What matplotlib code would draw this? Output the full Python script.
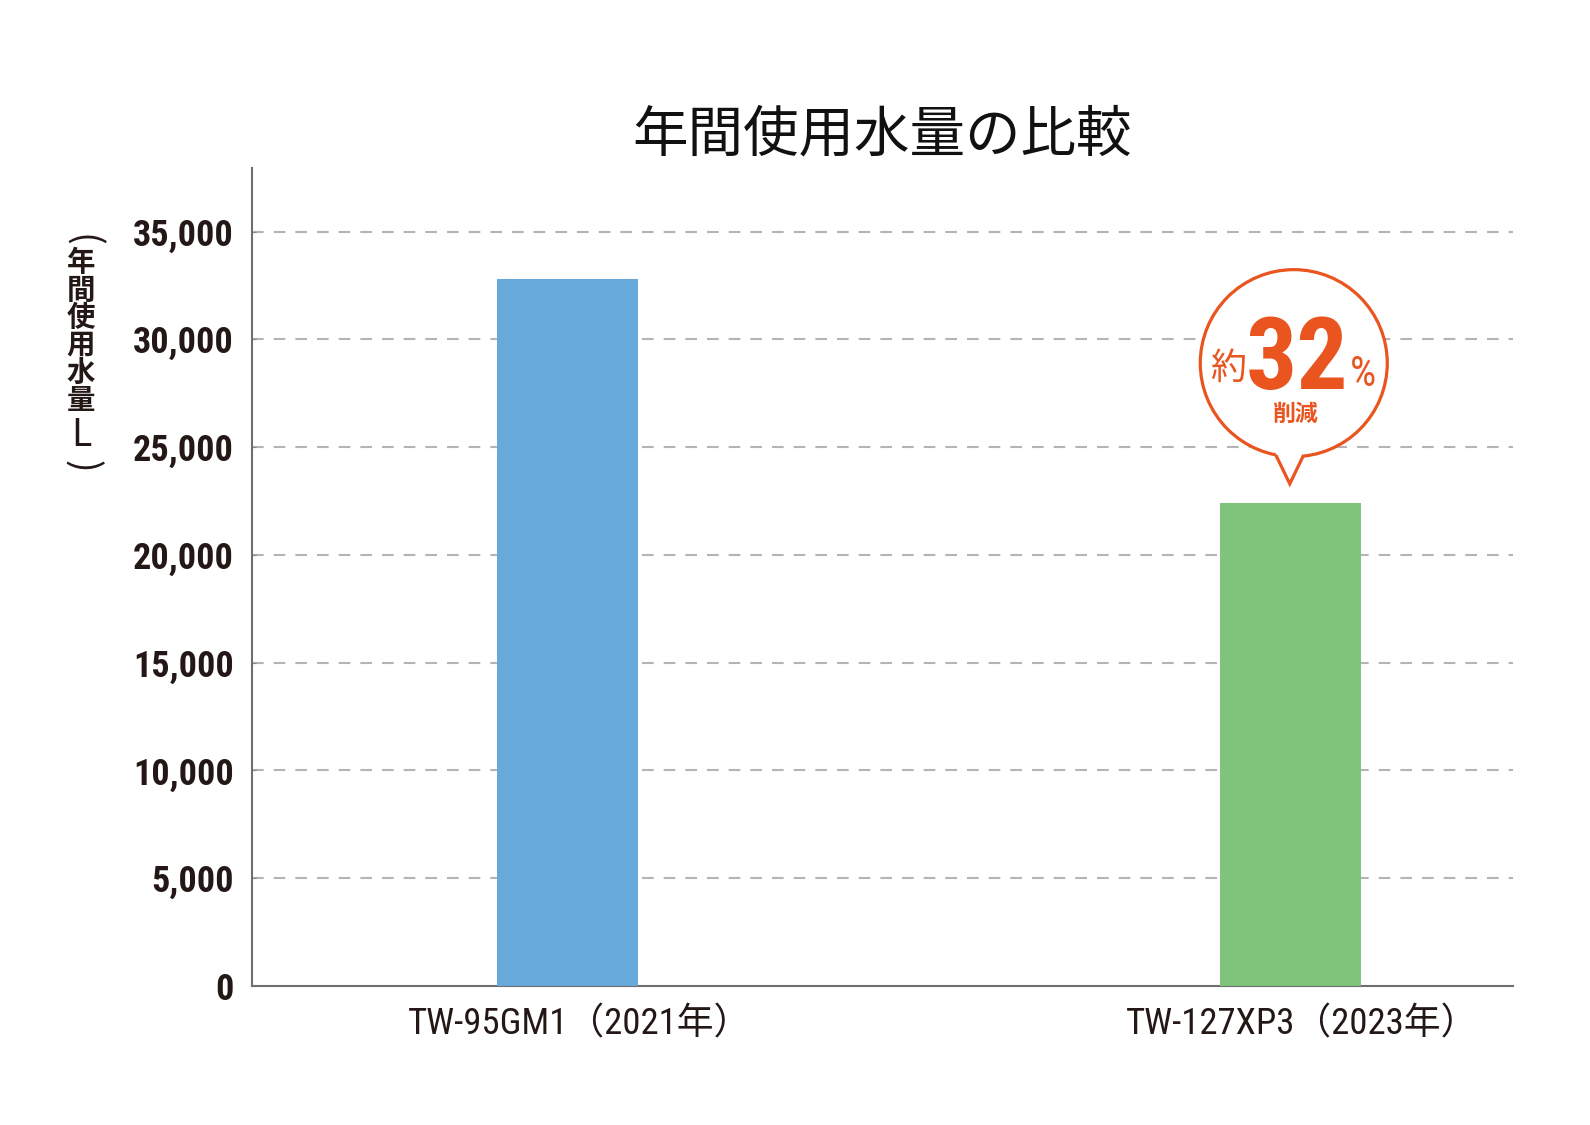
import matplotlib
matplotlib.use('Agg')
import matplotlib.pyplot as plt
import matplotlib.transforms as mtransforms
from matplotlib.patches import Circle, Polygon
from matplotlib import font_manager

# data
models = ['TW-95GM1（2021年）', 'TW-127XP3（2023年）']
water_use = [32800, 22400]          # L / year
reduction_pct = 32
y_ticks = [0, 5000, 10000, 15000, 20000, 25000, 30000, 35000]
y_tick_labels = [f'{v:,}' for v in y_ticks]
ylabel_chars = ['（', '年', '間', '使', '用', '水', '量', 'L', '）']

BLUE = '#67A9DA'
GREEN = '#7FC47A'
ORANGE = '#E9541F'
INK = '#231815'
GRID = '#B4B4B4'

names = {f.name for f in font_manager.fontManager.ttflist}
COND = next((n for n in ['Roboto Condensed', 'PT Sans Narrow', 'Archivo Narrow']
             if n in names), 'DejaVu Sans')
JP = 'Noto Sans CJK JP'
MIX = [COND, JP]
plt.rcParams['font.family'] = [JP, 'DejaVu Sans']

fig = plt.figure(figsize=(15.9, 11.25), dpi=100)
fig.patch.set_facecolor('white')
ax = fig.add_axes([0.1585, 0.1236, 0.7931, 0.7271])

x = list(range(len(models)))
ax.bar(x, water_use, width=0.195, color=[BLUE, GREEN], zorder=3)
for v in y_ticks[1:]:
    ax.axhline(v, color=GRID, lw=1.5, ls=(0, (5.6, 4.8)), zorder=1)

ax.set_xlim(-0.437, 1.308)
ax.set_ylim(0, 37950)
ax.set_yticks(y_ticks)
ax.set_yticklabels(y_tick_labels, family=MIX, fontweight='bold',
                   fontsize=26, color=INK)
ax.set_xticks(x)
ax.set_xticklabels(models, family=MIX, fontsize=26.5, color=INK)
ax.tick_params(axis='y', length=3, direction='in', color='#888888', pad=13)
ax.tick_params(axis='x', length=0, pad=15)
# the full-width closing paren leaves blank space on the right: nudge labels
nudge = mtransforms.ScaledTranslation(0.12, 0, fig.dpi_scale_trans)
for lab in ax.get_xticklabels():
    lab.set_transform(lab.get_transform() + nudge)

for s in ['top', 'right']:
    ax.spines[s].set_visible(False)
for s in ['left', 'bottom']:
    ax.spines[s].set_color('#6E6E6E')
    ax.spines[s].set_linewidth(1.5)

# title
fig.text(0.5547, 0.879, '年間使用水量の比較', fontsize=40, color='#111111',
         ha='center', va='center')

# vertical y label, one character per row (pixel rows from the top)
label_rows = [240, 263, 290.5, 318, 345.5, 373, 401, 435, 466]
for ch, ypix in zip(ylabel_chars, label_rows):
    yf = 1 - ypix / 1125
    if ch in '（）':
        fig.text(81 / 1590, yf, '(' if ch == '（' else ')', fontsize=27,
                 color=INK, rotation=-90, rotation_mode='anchor',
                 ha='center', va='center')
    elif ch == 'L':
        fig.text(81 / 1590, yf, ch, fontsize=27, color=INK,
                 ha='center', va='center')
    else:
        fig.text(81 / 1590, yf, ch, fontsize=20.5, fontweight='bold',
                 color=INK, ha='center', va='center')

# speech bubble above the second bar (offsets in inches)
trans = fig.dpi_scale_trans + mtransforms.ScaledTranslation(x[1], water_use[1], ax.transData)
bl, tip, br = (-0.147, 0.483), (-0.007, 0.193), (0.133, 0.483)
ax.add_patch(Circle((0.033, 1.40), 0.935, transform=trans, facecolor='white',
                    edgecolor=ORANGE, lw=2.3, zorder=5, clip_on=False))
ax.add_patch(Polygon([bl, tip, br, (0.12, 0.56), (-0.135, 0.56)], closed=True,
                     transform=trans, facecolor='white', edgecolor='none',
                     zorder=6, clip_on=False))
ax.add_patch(Polygon([bl, tip, br], closed=False, fill=False, transform=trans,
                     edgecolor=ORANGE, lw=2.3, joinstyle='miter', zorder=7,
                     clip_on=False))

ax.text(-0.627, 1.343, '約', transform=trans, fontsize=26, color=ORANGE,
        ha='center', va='center', zorder=8)
ax.text(0.063, 1.143, f'{reduction_pct}', transform=trans, family=MIX,
        fontsize=73, fontweight='bold', color=ORANGE, ha='center',
        va='baseline', zorder=8)
ax.text(0.723, 1.173, '%', transform=trans, family=MIX, fontsize=30,
        color=ORANGE, ha='center', va='baseline', zorder=8)
ax.text(0.043, 0.89, '削減', transform=trans, fontsize=16.5, fontweight='bold',
        color=ORANGE, ha='center', va='center', zorder=8)

fig.savefig('out.png', dpi=100, facecolor='white')
